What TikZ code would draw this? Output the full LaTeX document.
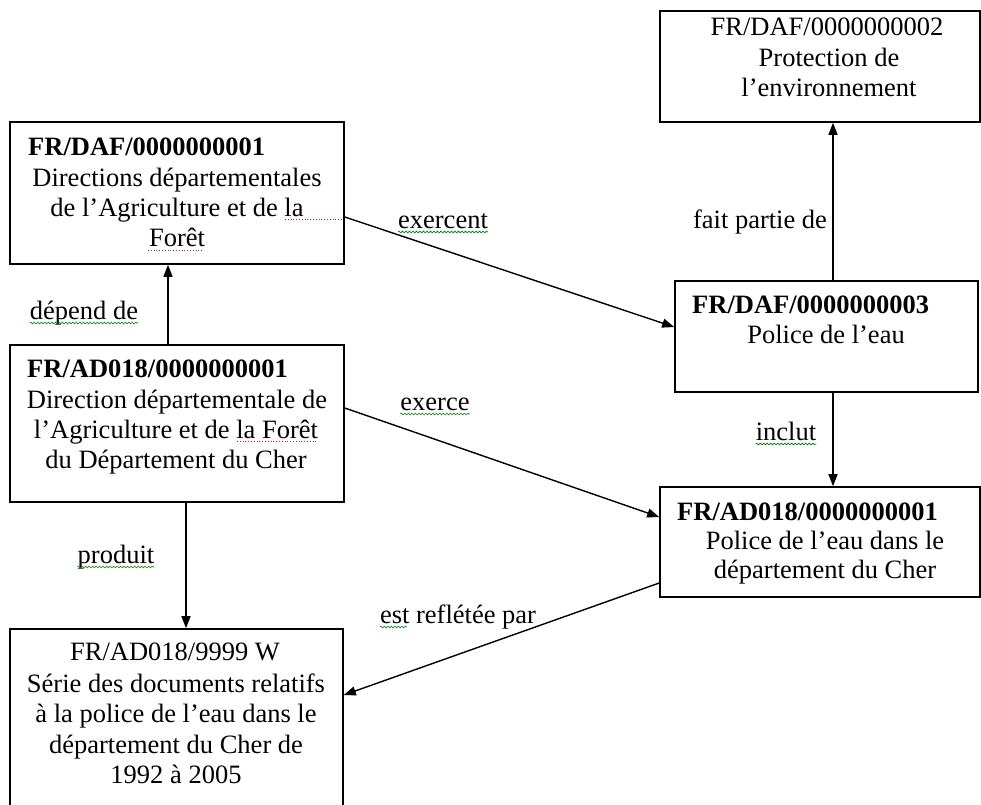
\documentclass[tikz,border=0pt]{standalone}
\usepackage{fontspec}
\setmainfont{Liberation Serif}
\usetikzlibrary{arrows.meta,calc,decorations.pathmorphing}
\begin{document}
\begin{tikzpicture}[x=1pt,y=-1pt,
 box/.style={draw=black,line width=1.6pt,rectangle,inner sep=0pt},
 ln/.style={inner sep=0pt,anchor=base,font=\fontsize{26.5}{30}\selectfont},
 lnl/.style={ln,anchor=base west},
 arr/.style={line width=1.4pt,-{Triangle[length=12pt,width=9pt]}},
 wavy/.style={draw=green!50!black,line width=0.6pt,decorate,decoration={snake,amplitude=0.9pt,segment length=3.5pt}},
 dots/.style={draw=magenta!70!blue,line width=0.8pt,dotted}]
\useasboundingbox (0,0) rectangle (981,804);
\fill[white] (0,0) rectangle (981,804);
\clip (0,0) rectangle (981,804);
% boxes
\node[box,minimum width=334pt,minimum height=142pt] (a) at (177,193) {};
\node[box,minimum width=320pt,minimum height=111pt] (b) at (820,66.5) {};
\node[box,minimum width=334pt,minimum height=157pt] (c) at (177,423.5) {};
\node[box,minimum width=303pt,minimum height=111pt] (d) at (826.5,336.5) {};
\node[box,minimum width=320pt,minimum height=110pt] (e) at (820,542) {};
\node[box,minimum width=333pt,minimum height=201pt] (f) at (176.5,729.5) {};
% texts A
\node[lnl] (a1) at (28,155) {\bfseries FR/DAF/0000000001};
\node[ln] (a2) at (177,186) {Directions départementales};
\node[ln] (a3) at (177,216) {de l’Agriculture et de la};
\node[ln] (a4) at (177,246) {Forêt};
% B
\node[ln] (b1) at (827,35) {FR/DAF/0000000002};
\node[ln] (b2) at (829,66) {Protection de};
\node[ln] (b3) at (829,96) {l’environnement};
% C
\node[lnl] (c1) at (27,377) {\bfseries FR/AD018/0000000001};
\node[ln] (c2) at (177,408) {Direction départementale de};
\node[ln] (c3) at (176,438) {l’Agriculture et de la Forêt};
\node[ln] (c4) at (176,468) {du Département du Cher};
% D
\node[lnl] (d1) at (692,313) {\bfseries FR/DAF/0000000003};
\node[ln] (d2) at (826,343) {Police de l’eau};
% E
\node[lnl] (e1) at (677,520) {\bfseries FR/AD018/0000000001};
\node[ln] (e2) at (825,549) {Police de l’eau dans le};
\node[ln] (e3) at (825,578) {département du Cher};
% F
\node[ln] (f1) at (175,660) {FR/AD018/9999 W};
\node[ln] (f2) at (176,692) {Série des documents relatifs};
\node[ln] (f3) at (176,722) {à la police de l’eau dans le};
\node[ln] (f4) at (176,753) {département du Cher de};
\node[ln] (f5) at (176,783) {1992 à 2005};
% labels
\node[ln] (l1) at (84,319) {dépend de};
\node[ln] (l2) at (443,228) {exercent};
\node[ln] (l3) at (760,228) {fait partie de};
\node[ln] (l4) at (435,410) {exerce};
\node[ln] (l5) at (786,440) {inclut};
\node[ln] (l6) at (116,563) {produit};
\node[ln] (l7) at (458,623) {est reflétée par};
% underlines
\draw[wavy] ($(l1.base west)+(0,4)$) -- ($(l1.base east)+(0,4)$);
\draw[wavy] ($(l2.base west)+(0,4)$) -- ($(l2.base east)+(0,4)$);
\draw[wavy] ($(l4.base west)+(0,4)$) -- ($(l4.base east)+(0,4)$);
\draw[wavy] ($(l5.base west)+(0,4)$) -- ($(l5.base east)+(0,4)$);
\draw[wavy] ($(l6.base west)+(0,4)$) -- ($(l6.base east)+(0,4)$);
\draw[wavy] ($(l7.base west)+(0,4)$) -- ++(27,0);
\draw[dots] (285,219) -- (342,219);
\draw[dots] (148,250) -- (203,250);
\draw[dots] (237,441) -- (318,441);
% connectors
\draw[arr] ($(c.north)+(-9,0)$) -- ($(a.south)+(-9,0)$);
\draw[arr] ($(a.east)+(0,24)$) -- ($(d.west)+(0,-9.5)$);
\draw[arr] ($(d.north)+(6.5,0)$) -- ($(b.south)+(13,0)$);
\draw[arr] ($(d.south)+(6.5,0)$) -- ($(e.north)+(13,0)$);
\draw[arr] ($(c.east)+(0,-15.5)$) -- ($(e.west)+(0,-25)$);
\draw[arr] ($(c.south)+(9,0)$) -- ($(f.north)+(9.5,0)$);
\draw[arr] ($(e.west)+(0,41)$) -- ($(f.east)+(0,-34.5)$);
\end{tikzpicture}
\end{document}
